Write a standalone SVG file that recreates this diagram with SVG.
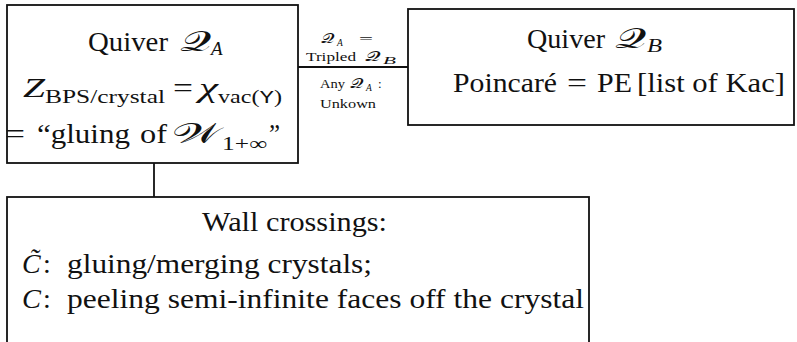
<svg xmlns="http://www.w3.org/2000/svg" width="797" height="342" viewBox="0 0 797 342">
<style>
.t{font-family:'Liberation Serif','Times New Roman',serif;font-size:28px;fill:#111}
.i{font-style:italic}
.s{font-size:19px}
.sm{font-size:13px}
.ss{font-size:9.5px}
.m{font-family:'Liberation Mono',monospace}
.box{fill:#fff;stroke:#111;stroke-width:1.8}
.conn{stroke:#111;stroke-width:1.8;fill:none}
</style>
<rect width="797" height="342" fill="#fff"/>
<g id="connectors">
<line class="conn" x1="298" y1="67" x2="408" y2="67"/>
<line class="conn" x1="154" y1="163" x2="154" y2="197"/>
<g id="label-AB">
<text class="t sm" x="321" y="43" textLength="13" lengthAdjust="spacingAndGlyphs">𝒬</text>
<text class="t ss i" x="337" y="46">A</text>
<text class="t sm" x="359" y="43" textLength="14" lengthAdjust="spacingAndGlyphs">=</text>
<text class="t sm" x="306" y="61" textLength="50" lengthAdjust="spacingAndGlyphs">Tripled</text>
<text class="t sm" x="365" y="61" textLength="15" lengthAdjust="spacingAndGlyphs">𝒬</text>
<text class="t ss i" x="383" y="64" textLength="13" lengthAdjust="spacingAndGlyphs">B</text>
<text class="t sm" x="320" y="88" textLength="25" lengthAdjust="spacingAndGlyphs">Any</text>
<text class="t sm" x="350" y="88" textLength="13" lengthAdjust="spacingAndGlyphs">𝒬</text>
<text class="t ss i" x="366" y="91">A</text>
<text class="t sm" x="378" y="88">:</text>
<text class="t sm" x="320" y="108" textLength="56" lengthAdjust="spacingAndGlyphs">Unkown</text>
</g>
</g>
<g id="nodeA">
<rect class="box" x="7" y="5" width="291" height="158"/>
<text class="t" x="88" y="51" textLength="80" lengthAdjust="spacingAndGlyphs">Quiver</text>
<text class="t" x="180" y="51" textLength="31" lengthAdjust="spacingAndGlyphs">𝒬</text>
<text class="t s i" x="211" y="55">A</text>
<text class="t i" x="23" y="97" textLength="22" lengthAdjust="spacingAndGlyphs">Z</text>
<text class="t s" x="45" y="103" textLength="120" lengthAdjust="spacingAndGlyphs">BPS/crystal</text>
<text class="t" x="173" y="97" textLength="20" lengthAdjust="spacingAndGlyphs">=</text>
<text class="t i" x="199" y="97" textLength="19" lengthAdjust="spacingAndGlyphs">χ</text>
<text class="t s" x="218" y="103" textLength="64" lengthAdjust="spacingAndGlyphs">vac(<tspan class="m">Y</tspan>)</text>
<text class="t" x="5" y="143" textLength="20" lengthAdjust="spacingAndGlyphs">=</text>
<text class="t" x="37" y="143" textLength="93" lengthAdjust="spacingAndGlyphs">“gluing</text>
<text class="t" x="140" y="143" textLength="27" lengthAdjust="spacingAndGlyphs">of</text>
<text class="t" x="172" y="143" textLength="48" lengthAdjust="spacingAndGlyphs">𝒲</text>
<text class="t s" x="222" y="150" textLength="45" lengthAdjust="spacingAndGlyphs">1+∞</text>
<text class="t" x="269" y="143" textLength="11" lengthAdjust="spacingAndGlyphs">”</text>
</g>
<g id="nodeB">
<rect class="box" x="408" y="9" width="386" height="116"/>
<text class="t" x="527" y="48" textLength="78" lengthAdjust="spacingAndGlyphs">Quiver</text>
<text class="t" x="615" y="48" textLength="31" lengthAdjust="spacingAndGlyphs">𝒬</text>
<text class="t s i" x="647" y="52" textLength="15" lengthAdjust="spacingAndGlyphs">B</text>
<text class="t" x="453" y="92" textLength="104" lengthAdjust="spacingAndGlyphs">Poincaré</text>
<text class="t" x="567" y="92" textLength="20" lengthAdjust="spacingAndGlyphs">=</text>
<text class="t" x="597" y="92" textLength="35" lengthAdjust="spacingAndGlyphs">PE</text>
<text class="t" x="637" y="92" textLength="148" lengthAdjust="spacingAndGlyphs">[list of Kac]</text>
</g>
<g id="nodeC">
<rect class="box" x="7" y="197" width="582" height="146"/>
<text class="t" x="202" y="231" textLength="185" lengthAdjust="spacingAndGlyphs">Wall crossings:</text>
<text class="t i" x="22" y="273">C&#x303;</text>
<text class="t" x="43" y="273">:</text>
<text class="t" x="67" y="273" textLength="305" lengthAdjust="spacingAndGlyphs">gluing/merging crystals;</text>
<text class="t i" x="22" y="308" textLength="19" lengthAdjust="spacingAndGlyphs">C</text>
<text class="t" x="43" y="308">:</text>
<text class="t" x="67" y="308" textLength="517" lengthAdjust="spacingAndGlyphs">peeling semi-infinite faces off the crystal</text>
</g>
</svg>
